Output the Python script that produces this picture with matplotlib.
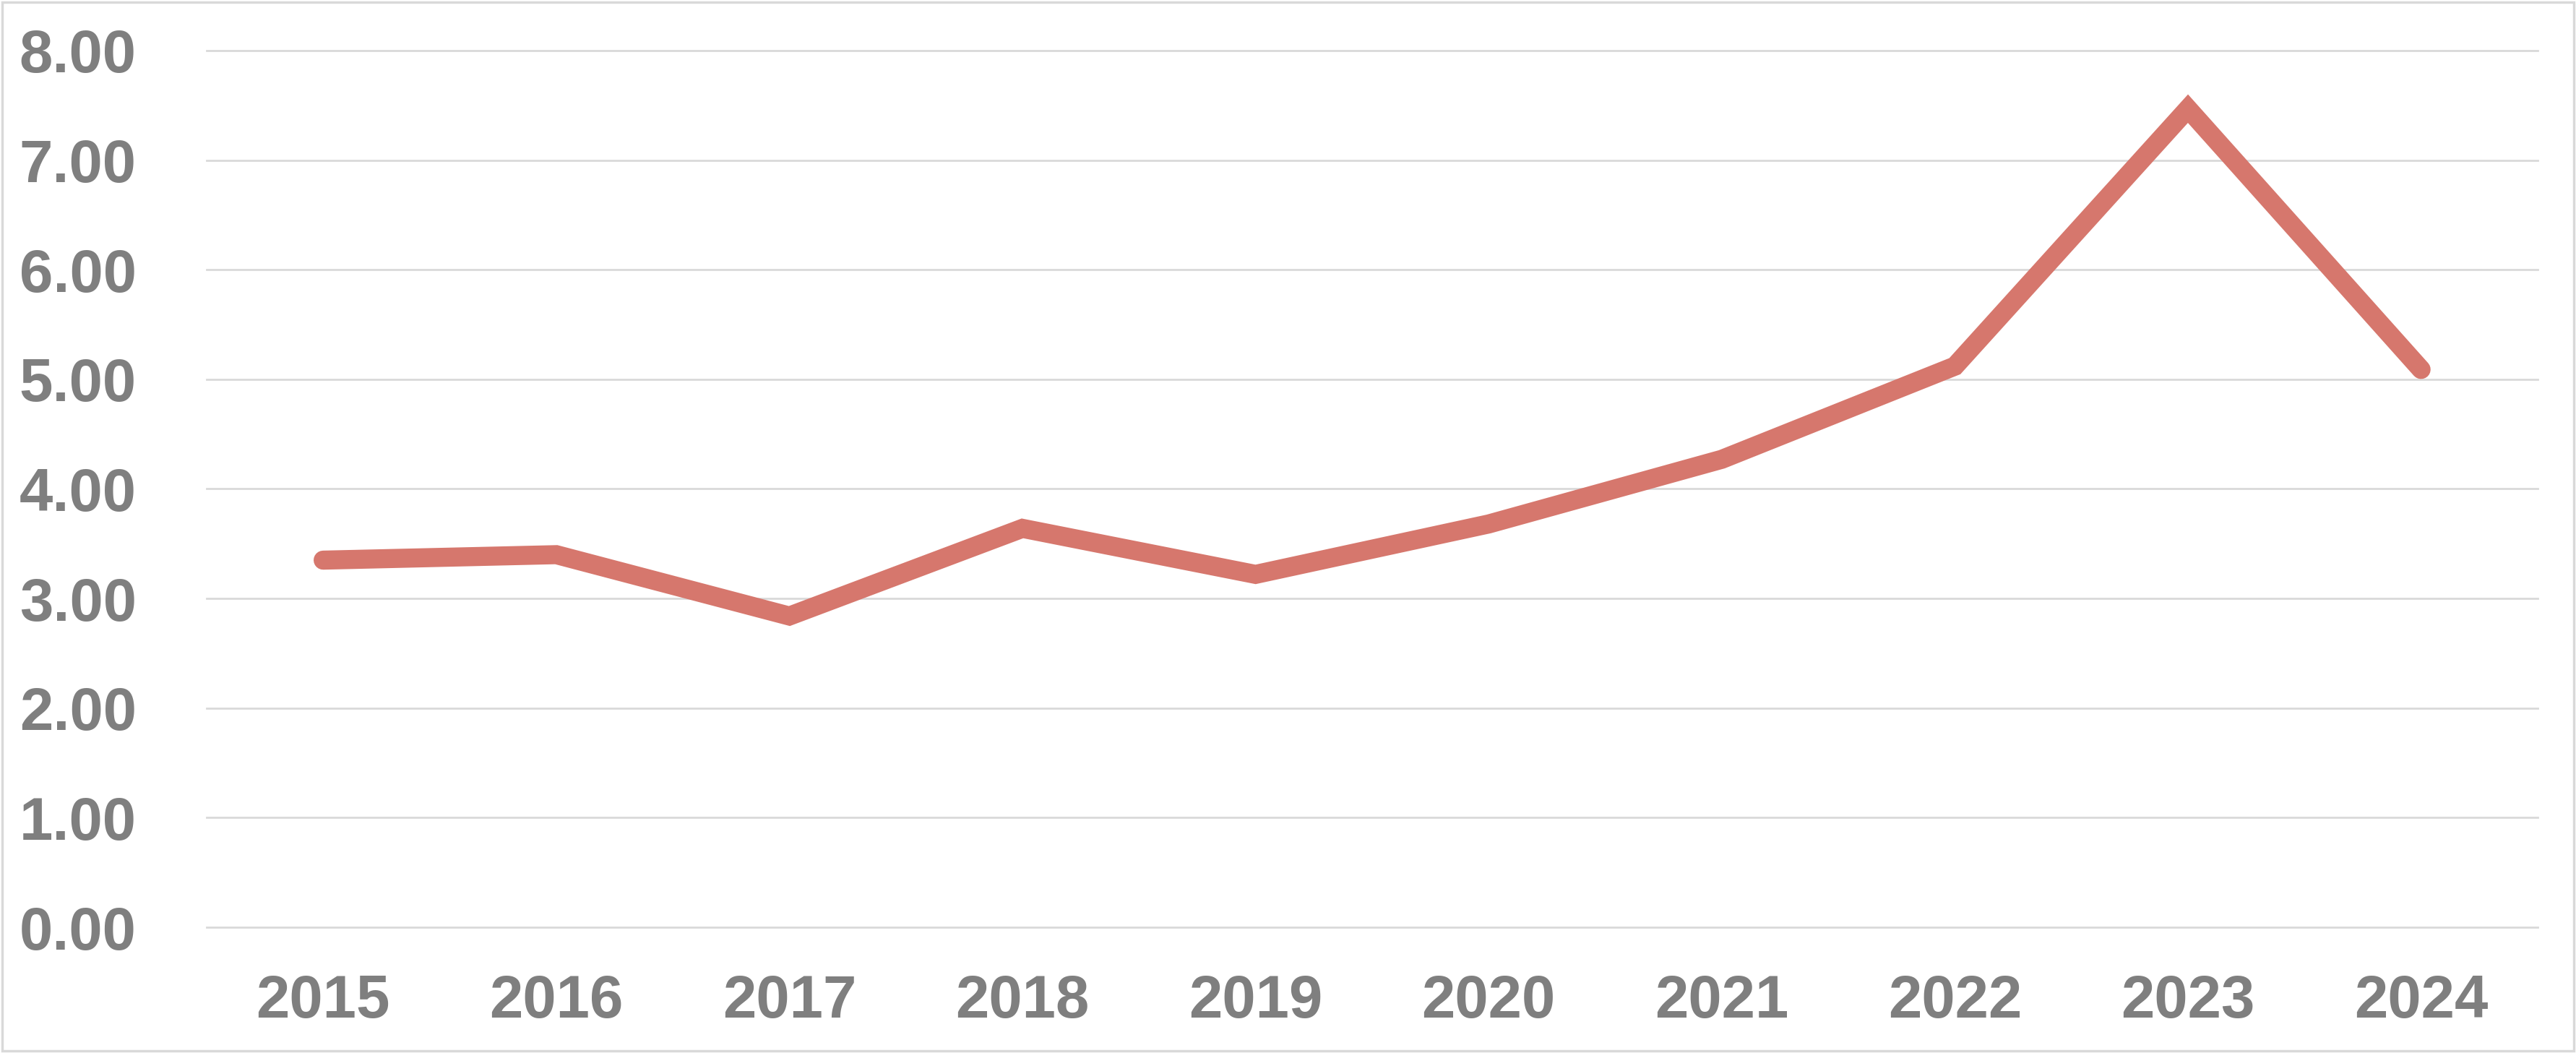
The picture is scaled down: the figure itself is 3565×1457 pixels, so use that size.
import matplotlib.pyplot as plt
from matplotlib.patches import Rectangle

years = ['2015', '2016', '2017', '2018', '2019', '2020', '2021', '2022', '2023', '2024']
values = [3.35, 3.40, 2.84, 3.64, 3.22, 3.68, 4.27, 5.12, 7.47, 5.09]
y_ticks = [0, 1, 2, 3, 4, 5, 6, 7, 8]

plt.rcParams['font.family'] = ['Liberation Sans', 'DejaVu Sans']

fig = plt.figure(figsize=(35.65, 14.57), dpi=100)
ax = fig.add_axes([0.0802, 0.1194, 0.9049, 0.8326])

x = list(range(len(years)))
ax.plot(x, values, color='#d6776d', linewidth=19,
        solid_capstyle='round', solid_joinstyle='miter', zorder=3)

ax.set_xlim(-0.5, len(years) - 0.5)
ax.set_ylim(0, 8)
ax.set_yticks(y_ticks)
ax.set_yticklabels([f'{v:.2f}' for v in y_ticks])
ax.set_xticks(x)
ax.set_xticklabels(years)

ax.grid(axis='y', color='#d9d9d9', linewidth=2)
for gl in ax.get_ygridlines():
    gl.set_clip_on(False)
ax.set_axisbelow(True)
for s in ax.spines.values():
    s.set_visible(False)
ax.tick_params(axis='both', length=0, labelsize=60, labelcolor='#7f7f7f')
ax.tick_params(axis='y', pad=70)
ax.tick_params(axis='x', pad=46)
for lab in ax.get_xticklabels() + ax.get_yticklabels():
    lab.set_fontweight('bold')

# thin light border round the whole picture
fig.patches.append(Rectangle((0.0008, 0.002), 0.9984, 0.996, transform=fig.transFigure,
                             fill=False, edgecolor='#d9d9d9', linewidth=2.5))

fig.savefig('out.png', dpi=100, facecolor='white')
